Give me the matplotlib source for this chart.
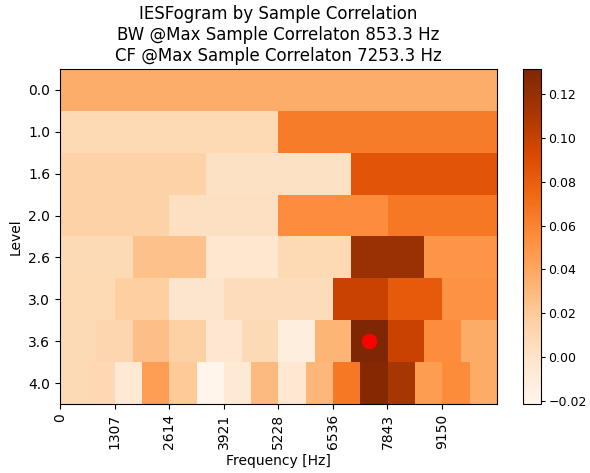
import matplotlib
matplotlib.use("Agg")
import matplotlib.pyplot as plt
import numpy as np

# Level labels (rows) and band values per level (each row split into equal bands)
LEVELS = ["0.0", "1.0", "1.6", "2.0", "2.6", "3.0", "3.6", "4.0"]
ROW_0 = [0.036]
ROW_1 = [0.009, 0.064]
ROW_2 = [0.015, 0.0015, 0.086]
ROW_3 = [0.015, 0.003, 0.055, 0.066]
ROW_4 = [0.008, 0.024, -0.003, 0.009, 0.118, 0.050]
ROW_5 = [0.009, 0.017, -0.002, 0.006, 0.006, 0.099, 0.082, 0.052]
ROW_6 = [0.008, 0.011, 0.026, 0.016, -0.004, 0.008, -0.013, 0.032, 0.1315, 0.099, 0.055, 0.037]
ROW_7 = [0.008, 0.010, -0.006, 0.045, 0.020, -0.0214, -0.007, 0.029,
         -0.005, 0.031, 0.066, 0.128, 0.112, 0.046, 0.056, 0.037]
ROWS = [ROW_0, ROW_1, ROW_2, ROW_3, ROW_4, ROW_5, ROW_6, ROW_7]

FREQ_MAX = 10457.6
TICK_FREQS = np.arange(8) * FREQ_MAX / 8
TICK_LABELS = [str(int(f)) for f in TICK_FREQS]

TITLE = ("IESFogram by Sample Correlation\n"
         "BW @Max Sample Correlaton 853.3 Hz\n"
         "CF @Max Sample Correlaton 7253.3 Hz")

# upsample every row to a common width
ncols = 48
grid = np.array([np.repeat(r, ncols // len(r)) for r in ROWS])

fig = plt.figure(figsize=(5.9, 4.73), dpi=100)
ax = fig.add_axes([0.1017, 0.146, 0.740, 0.708])
cax = fig.add_axes([0.8865, 0.146, 0.030, 0.708])

im = ax.imshow(grid, aspect="auto", cmap="Oranges", interpolation="nearest",
               extent=[0, FREQ_MAX, len(ROWS) - 0.5, -0.5])
cb = fig.colorbar(im, cax=cax)
cb.ax.tick_params(labelsize=9, length=3, pad=2.5)

# mark the maximum
ri = int(np.argmax([max(r) for r in ROWS]))
bi = int(np.argmax(ROWS[ri]))
nb = len(ROWS[ri])
ax.plot((bi + 0.5) / nb * FREQ_MAX, ri, "o", color="red", markersize=10)

ax.set_yticks(range(len(LEVELS)))
ax.set_yticklabels(LEVELS)
ax.set_xticks(TICK_FREQS)
ax.set_xticklabels(TICK_LABELS, rotation=90)
ax.set_xlabel("Frequency [Hz]")
ax.set_ylabel("Level")
ax.set_title(TITLE)

fig.savefig("out.png", dpi=100)
